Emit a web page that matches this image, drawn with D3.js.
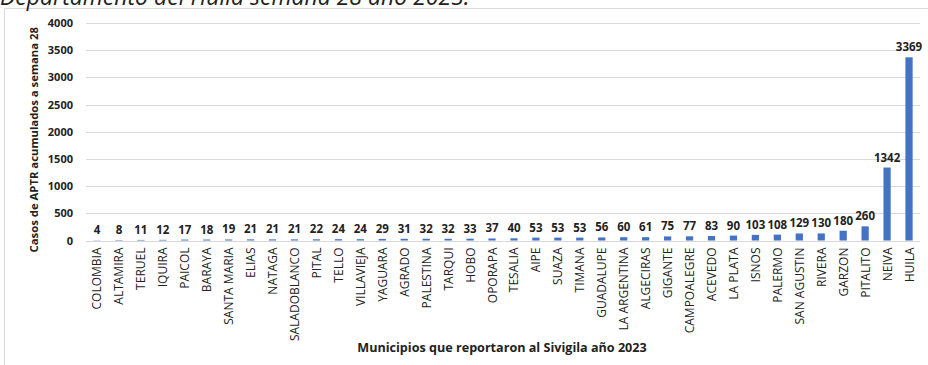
<!DOCTYPE html>
<html><head><meta charset="utf-8">
<script src="https://cdn.jsdelivr.net/npm/d3@7"></script>
<style>body{margin:0;background:#fff}svg{display:block}</style>
</head><body>
<svg id="c" width="928" height="365"></svg>
<script>
const categories = ["COLOMBIA","ALTAMIRA","TERUEL","IQUIRA","PAICOL","BARAYA","SANTA MARIA","ELIAS","NATAGA","SALADOBLANCO","PITAL","TELLO","VILLAVIEJA","YAGUARA","AGRADO","PALESTINA","TARQUI","HOBO","OPORAPA","TESALIA","AIPE","SUAZA","TIMANA","GUADALUPE","LA ARGENTINA","ALGECIRAS","GIGANTE","CAMPOALEGRE","ACEVEDO","LA PLATA","ISNOS","PALERMO","SAN AGUSTIN","RIVERA","GARZON","PITALITO","NEIVA","HUILA"];
const values = [4,8,11,12,17,18,19,21,21,21,22,24,24,29,31,32,32,33,37,40,53,53,53,56,60,61,75,77,83,90,103,108,129,130,180,260,1342,3369];
const yTicks = [0,500,1000,1500,2000,2500,3000,3500,4000];
const title = "Departamento del Huila semana 28 año 2023.";
const yTitle = "Casos de APTR acumulados a semana 28";
const xTitle = "Municipios que reportaron al Sivigila año 2023";

const svg = d3.select("#c");
const font = "'Open Sans', 'DejaVu Sans', sans-serif";
const pLeft = 86, pRight = 920, pTop = 23, pBottom = 240.5;

// frame
svg.append("path").attr("d", `M4.5,400 V8.5 H940`).attr("fill","none").attr("stroke","#d9d9d9").attr("stroke-width",1);
// title (partially cut off, as in the reference)
svg.append("text").attr("x",0).attr("y",5).attr("font-family",font).attr("font-style","italic")
  .attr("font-size",23).attr("fill","#222").text(title);

const x = d3.scaleBand().domain(categories).range([pLeft, pRight]).paddingInner(0.67).paddingOuter(0.335);
const y = d3.scaleLinear().domain([0,4000]).range([pBottom, pTop]);

// gridlines
svg.append("g").selectAll("line").data(yTicks).join("line")
  .attr("x1",pLeft).attr("x2",pRight).attr("y1",d=>Math.round(y(d))+0.5).attr("y2",d=>Math.round(y(d))+0.5)
  .attr("stroke","#d9d9d9").attr("stroke-width",1);

// y axis labels
const yAxis = d3.axisLeft(y).tickValues(yTicks).tickSize(0).tickPadding(0).tickFormat(d3.format("d"));
const yg = svg.append("g").attr("transform",`translate(${pLeft-13},0)`).call(yAxis);
yg.select(".domain").remove();
yg.selectAll("text").attr("font-family",font).attr("font-size",11).attr("font-weight","bold").attr("fill","#222");

// bars
svg.append("g").selectAll("rect").data(values).join("rect")
  .attr("x",(d,i)=>x(categories[i])).attr("width",x.bandwidth())
  .attr("y",d=>y(d)).attr("height",d=>pBottom-y(d)).attr("fill","#4472C4");

// value labels
svg.append("g").selectAll("text").data(values).join("text")
  .attr("x",(d,i)=>x(categories[i])+x.bandwidth()/2).attr("y",d=>y(d)-6)
  .attr("text-anchor","middle").attr("font-family",font).attr("font-size",11.5).attr("font-weight","bold")
  .attr("fill","#222").text(d=>d);

// x axis labels
const xAxis = d3.axisBottom(x).tickSize(0).tickPadding(0);
const xg = svg.append("g").attr("transform",`translate(0,${pBottom})`).call(xAxis);
xg.select(".domain").remove();
xg.selectAll("text").attr("font-family",font).attr("font-size",12).attr("fill","#222")
  .attr("text-anchor","end").attr("dy",null).attr("dominant-baseline","central")
  .attr("transform","translate(0,7) rotate(-90)").attr("x",0).attr("y",0);

// axis titles
svg.append("text").attr("transform",`translate(33,${(pTop+pBottom)/2+8}) rotate(-90)`)
  .attr("text-anchor","middle").attr("dominant-baseline","central").attr("font-family",font)
  .attr("font-size",11.3).attr("font-weight","bold").attr("fill","#222").text(yTitle);
svg.append("text").attr("x",502).attr("y",352).attr("text-anchor","middle").attr("font-family",font)
  .attr("font-size",12.6).attr("font-weight","bold").attr("fill","#222").text(xTitle);
</script>
</body></html>
